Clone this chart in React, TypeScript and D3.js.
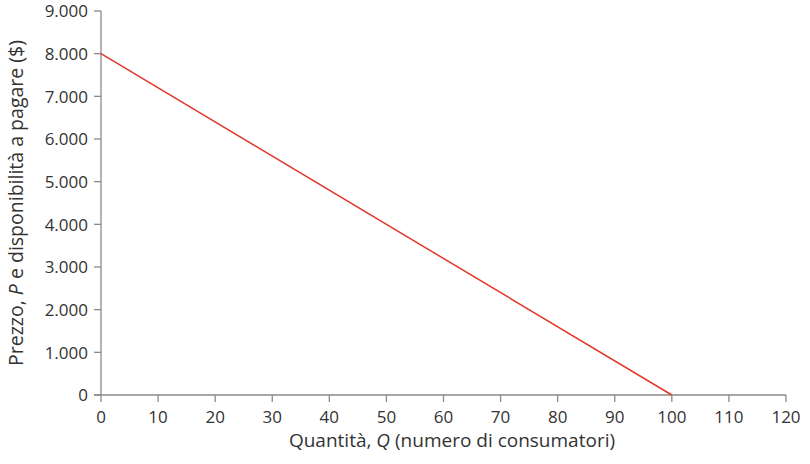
import React from "react";
import * as d3 from "d3";

const quantities = [0, 100];
const prices = [8000, 0];
const xTicks = [0, 10, 20, 30, 40, 50, 60, 70, 80, 90, 100, 110, 120];
const yTicks = [0, 1000, 2000, 3000, 4000, 5000, 6000, 7000, 8000, 9000];

const W = 810;
const H = 464;
const M = { left: 101, right: 24, top: 11, bottom: 69 };
const FONT = "'Open Sans', sans-serif";
const AXIS = "#8a8a8a";
const TXT = "#333333";

const fmt = (v: number) => (v === 0 ? "0" : d3.format(",")(v).replace(/,/g, "."));

export default function App() {
  const x = d3.scaleLinear().domain([0, 120]).range([M.left, W - M.right]);
  const y = d3.scaleLinear().domain([0, 9000]).range([H - M.bottom, M.top]);
  const line = d3
    .line<number>()
    .x((_, i) => x(quantities[i]))
    .y((d) => y(d));
  const y0 = y(0);
  return (
    <svg width={W} height={H} style={{ position: "absolute", left: 0, top: 0, background: "#fff" }} fontFamily={FONT}>
      {/* y axis */}
      <line x1={x(0)} x2={x(0)} y1={y(9000)} y2={y0} stroke={AXIS} strokeWidth={1.3} />
      {yTicks.map((t) => (
        <g key={"y" + t}>
          <line x1={x(0) - 7} x2={x(0)} y1={y(t)} y2={y(t)} stroke={AXIS} strokeWidth={1.3} />
          <text x={x(0) - 13} y={y(t)} dy="0.38em" textAnchor="end" fontSize={17} fill={TXT}>
            {fmt(t)}
          </text>
        </g>
      ))}
      {/* x axis */}
      <line x1={x(0) - 7} x2={x(120)} y1={y0} y2={y0} stroke={AXIS} strokeWidth={1.3} />
      {xTicks.map((t) => (
        <g key={"x" + t}>
          <line x1={x(t)} x2={x(t)} y1={y0} y2={y0 + 7} stroke={AXIS} strokeWidth={1.3} />
          <text x={x(t)} y={y0 + 28} textAnchor="middle" fontSize={17} fill={TXT}>
            {t}
          </text>
        </g>
      ))}
      {/* demand line */}
      <path d={line(prices) || ""} fill="none" stroke="#e2372b" strokeWidth={1.5} />
      {/* titles */}
      <text x={452} y={447} textAnchor="middle" fontSize={19} fill={TXT}>
        Quantità, <tspan fontStyle="italic">Q</tspan> (numero di consumatori)
      </text>
      <text
        transform={`translate(23, ${(y(9000) + y0) / 2}) rotate(-90)`}
        textAnchor="middle"
        fontSize={19.5}
        fill={TXT}
      >
        Prezzo, <tspan fontStyle="italic">P</tspan> e disponibilità a pagare ($)
      </text>
    </svg>
  );
}
